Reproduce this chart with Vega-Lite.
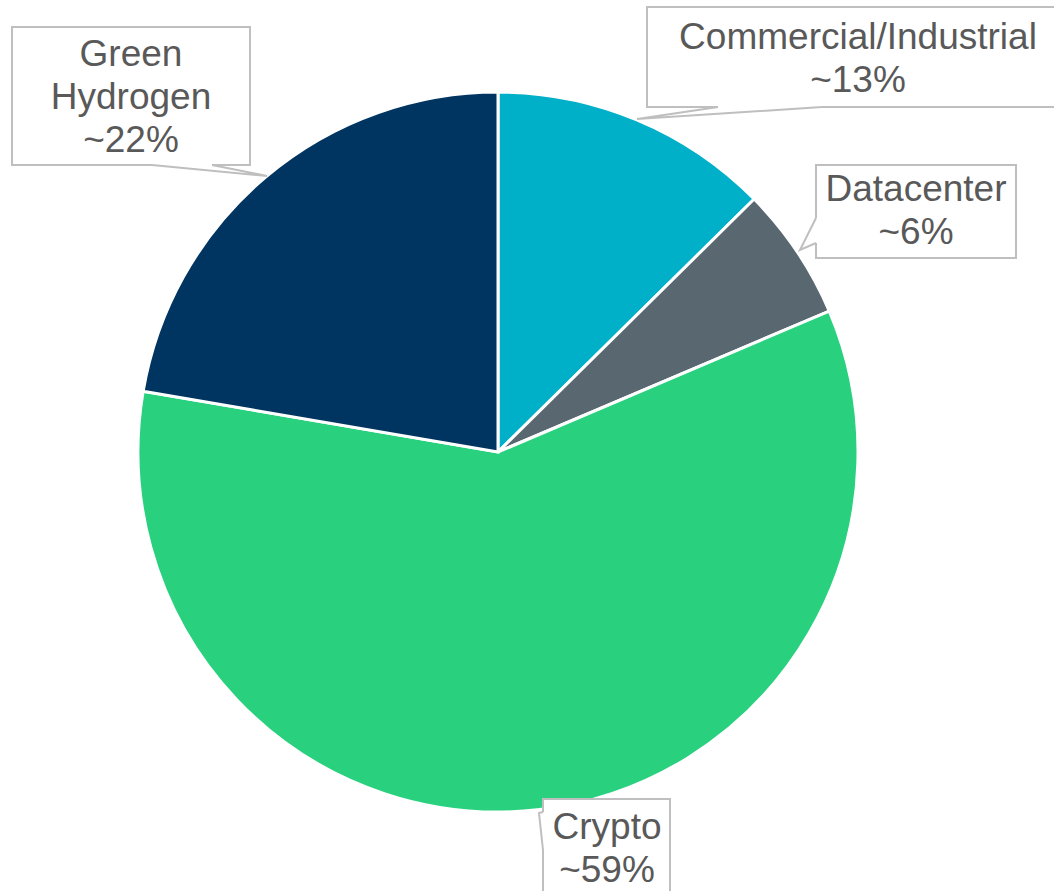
{
  "$schema": "https://vega.github.io/schema/vega-lite/v6.json",
  "width": 996,
  "height": 878,
  "autosize": "none",
  "padding": {"left": 0, "top": 13, "right": 58, "bottom": 0},
  "background": "white",
  "config": {"view": {"stroke": null}, "font": "Liberation Sans"},
  "datasets": {
    "slices": [
      {"segment": "Commercial/Industrial", "share": 12.6, "rank": 1},
      {"segment": "Datacenter", "share": 6.0, "rank": 2},
      {"segment": "Crypto", "share": 59.1, "rank": 3},
      {"segment": "Green Hydrogen", "share": 22.3, "rank": 4}
    ],
    "callouts": [
      {"segment": "Green Hydrogen", "text": "Green\nHydrogen\n~22%", "x1": -1.35, "x2": -0.6889, "y1": 1.1806, "y2": 0.7972, "tx": -1.0194, "ty": 1.1028, "bx1": -0.9611, "by1": 0.7972, "bx2": -0.7944, "by2": 0.7972},
      {"segment": "Commercial/Industrial", "text": "Commercial/Industrial\n~13%", "x1": 0.4139, "x2": 1.5611, "y1": 1.2361, "y2": 0.9583, "tx": 1.0, "ty": 1.15, "bx1": 0.6111, "by1": 0.9583, "bx2": 0.9, "by2": 0.9583},
      {"segment": "Datacenter", "text": "Datacenter\n~6%", "x1": 0.8833, "x2": 1.4389, "y1": 0.7972, "y2": 0.5389, "tx": 1.1611, "ty": 0.7278, "bx1": 0.8833, "by1": 0.65, "bx2": 0.8833, "by2": 0.5806},
      {"segment": "Crypto", "text": "Crypto\n~59%", "x1": 0.125, "x2": 0.4778, "y1": -0.9639, "y2": -1.2306, "tx": 0.3028, "ty": -1.0444, "bx1": 0.125, "by1": -1.0, "bx2": 0.125, "by2": -1.1056}
    ],
    "wedges": [
      {"segment": "Green Hydrogen", "pt": 1, "x": -0.9611, "y": 0.7972},
      {"segment": "Green Hydrogen", "pt": 2, "x": -0.6417, "y": 0.7667},
      {"segment": "Green Hydrogen", "pt": 3, "x": -0.7944, "y": 0.7972},
      {"segment": "Commercial/Industrial", "pt": 1, "x": 0.6111, "y": 0.9583},
      {"segment": "Commercial/Industrial", "pt": 2, "x": 0.3861, "y": 0.925},
      {"segment": "Commercial/Industrial", "pt": 3, "x": 0.9, "y": 0.9583},
      {"segment": "Datacenter", "pt": 1, "x": 0.8833, "y": 0.65},
      {"segment": "Datacenter", "pt": 2, "x": 0.8389, "y": 0.5611},
      {"segment": "Datacenter", "pt": 3, "x": 0.8833, "y": 0.5806},
      {"segment": "Crypto", "pt": 1, "x": 0.125, "y": -1.0},
      {"segment": "Crypto", "pt": 2, "x": 0.1139, "y": -1.0028},
      {"segment": "Crypto", "pt": 3, "x": 0.125, "y": -1.1056}
    ]
  },
  "layer": [
    {
      "data": {"name": "slices"},
      "mark": {"type": "arc", "outerRadius": 360, "stroke": "white", "strokeWidth": 3},
      "encoding": {
        "theta": {"field": "share", "type": "quantitative", "stack": true},
        "order": {"field": "rank", "type": "quantitative"},
        "color": {
          "field": "segment",
          "type": "nominal",
          "scale": {
            "domain": ["Commercial/Industrial", "Datacenter", "Crypto", "Green Hydrogen"],
            "range": ["#00AFC8", "#596770", "#29D17F", "#003562"]
          },
          "legend": null
        }
      }
    },
    {
      "data": {"name": "callouts"},
      "mark": {"type": "rect", "fill": "white", "stroke": "#BFBFBF", "strokeWidth": 2},
      "encoding": {
        "x": {"field": "x1", "type": "quantitative", "scale": {"domain": [-1.38333, 1.38333], "nice": false, "zero": false}, "axis": null},
        "x2": {"field": "x2"},
        "y": {"field": "y1", "type": "quantitative", "scale": {"domain": [-1.219444, 1.219444], "nice": false, "zero": false}, "axis": null},
        "y2": {"field": "y2"}
      }
    },
    {
      "data": {"name": "callouts"},
      "mark": {"type": "rule", "stroke": "white", "strokeWidth": 3},
      "encoding": {
        "x": {"field": "bx1", "type": "quantitative"},
        "x2": {"field": "bx2"},
        "y": {"field": "by1", "type": "quantitative"},
        "y2": {"field": "by2"}
      }
    },
    {
      "data": {"name": "wedges"},
      "mark": {"type": "line", "stroke": "#BFBFBF", "strokeWidth": 2, "strokeJoin": "miter"},
      "encoding": {
        "x": {"field": "x", "type": "quantitative"},
        "y": {"field": "y", "type": "quantitative"},
        "detail": {"field": "segment", "type": "nominal"},
        "order": {"field": "pt", "type": "quantitative"}
      }
    },
    {
      "data": {"name": "callouts"},
      "mark": {"type": "text", "fontSize": 37, "lineHeight": 43, "lineBreak": "\n", "color": "#595959", "align": "center", "baseline": "middle", "font": "Liberation Sans"},
      "encoding": {
        "x": {"field": "tx", "type": "quantitative"},
        "y": {"field": "ty", "type": "quantitative"},
        "text": {"field": "text", "type": "nominal"}
      }
    }
  ]
}
